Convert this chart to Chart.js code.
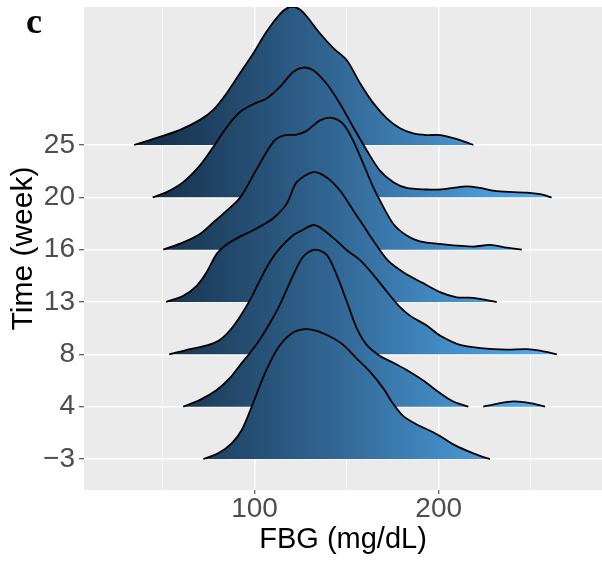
<!DOCTYPE html>
<html>
<head>
<meta charset="utf-8">
<script src="https://cdn.jsdelivr.net/npm/chart.js@4.4.0/dist/chart.umd.min.js"></script>
<style>
  body { margin: 0; background: #fff; }
  #wrap { position: relative; width: 602px; height: 565px; }
  #panelTag { position: absolute; left: 26px; top: 3px; font: bold 36px "Liberation Serif", "DejaVu Serif", serif; line-height: 36px; color: #000; }
</style>
</head>
<body>
<div id="wrap">
  <canvas id="ridges" width="602" height="565"></canvas>
  <div id="panelTag">c</div>
</div>
<script>
// rows of the plot, bottom to top
const weeks = ['\u22123', '4', '8', '13', '16', '20', '25'];

// x ticks (only the majors get a label)
const fbgTicks = [50, 100, 150, 200, 250];
const fbgLabels = [100, 200];

// density curves: FBG value and ridge height (in row units)
const fbgWkM3 = [72.2, 80.3, 87.6, 93.0, 98.5, 105.7, 112.9, 120.2, 127.4, 133.8, 141.0, 148.2, 155.5, 162.7, 169.9, 175.4, 180.8, 188.1, 195.3, 200.7, 207.9, 215.2, 222.4, 227.8];
const densWkM3 = [0, 0.11, 0.30, 0.55, 1.0, 1.64, 2.13, 2.40, 2.48, 2.45, 2.34, 2.18, 1.92, 1.67, 1.35, 1.05, 0.82, 0.66, 0.54, 0.44, 0.28, 0.16, 0.06, 0];

const fbgWk4 = [61.3, 70.4, 79.5, 86.7, 92.1, 97.6, 103.0, 108.4, 113.8, 121.1, 126.5, 132.8, 139.2, 144.6, 150.1, 155.5, 160.9, 168.1, 175.4, 182.6, 191.6, 200.7, 207.9, 216.1];
const densWk4 = [0, 0.13, 0.32, 0.55, 0.79, 1.03, 1.29, 1.60, 1.95, 2.52, 2.87, 3.00, 2.90, 2.52, 2.01, 1.50, 1.18, 0.97, 0.84, 0.70, 0.50, 0.26, 0.10, 0];
// small separate bump of week 4 at high FBG
const fbgWk4Tail = [224.2, 232.2, 240.5, 249.6, 257.7];
const densWk4Tail = [0, 0.06, 0.10, 0.07, 0];

const fbgWk8 = [53.7, 65.0, 74.1, 81.3, 86.7, 92.1, 97.6, 103.0, 108.4, 113.8, 121.1, 124.7, 132.8, 142.6, 150.1, 157.3, 164.5, 171.8, 179.0, 184.4, 193.5, 200.7, 211.6, 222.5, 236.9, 247.8, 255.0, 264.1];
const densWk8 = [0, 0.10, 0.17, 0.28, 0.46, 0.72, 1.04, 1.42, 1.77, 2.03, 2.28, 2.35, 2.47, 2.23, 1.99, 1.80, 1.52, 1.20, 0.90, 0.74, 0.55, 0.36, 0.18, 0.12, 0.09, 0.10, 0.07, 0];

const fbgWk13 = [52.0, 61.3, 68.6, 74.0, 79.5, 84.9, 92.1, 99.3, 103.9, 110.2, 117.5, 122.9, 131.9, 139.2, 146.4, 153.6, 159.1, 164.5, 172.5, 181.2, 191.0, 200.7, 209.8, 218.8, 231.5];
const densWk13 = [0, 0.12, 0.31, 0.57, 0.92, 1.10, 1.25, 1.37, 1.46, 1.60, 1.88, 2.29, 2.48, 2.38, 2.13, 1.75, 1.46, 1.17, 0.79, 0.56, 0.37, 0.19, 0.09, 0.08, 0];

const fbgWk16 = [50.5, 61.3, 70.4, 77.6, 83.1, 92.1, 101.2, 110.2, 115.6, 122.9, 128.3, 135.6, 141.9, 148.2, 153.6, 159.1, 164.5, 168.1, 175.4, 182.6, 189.8, 200.7, 218.8, 227.8, 236.9, 245.1];
const densWk16 = [0, 0.14, 0.30, 0.52, 0.69, 0.99, 1.54, 2.06, 2.18, 2.20, 2.27, 2.47, 2.52, 2.40, 2.08, 1.64, 1.19, 0.94, 0.49, 0.27, 0.16, 0.11, 0.06, 0.09, 0.04, 0];

const fbgWk20 = [44.7, 52.3, 61.3, 70.4, 77.6, 84.9, 92.1, 99.3, 106.6, 113.8, 121.1, 126.5, 131.9, 139.2, 146.4, 153.6, 160.9, 168.1, 175.4, 182.6, 193.5, 200.7, 207.9, 215.2, 222.4, 231.5, 247.8, 255.0, 261.3];
const densWk20 = [0, 0.10, 0.29, 0.61, 0.96, 1.34, 1.63, 1.78, 1.89, 2.11, 2.40, 2.48, 2.43, 2.17, 1.79, 1.34, 0.90, 0.51, 0.29, 0.18, 0.15, 0.15, 0.18, 0.21, 0.18, 0.12, 0.09, 0.06, 0];

const fbgWk25 = [34.7, 49.0, 59.6, 70.4, 77.6, 84.9, 92.1, 99.3, 106.6, 113.8, 118.0, 121.5, 125.0, 128.3, 135.6, 142.8, 150.1, 157.3, 164.5, 171.8, 179.0, 186.2, 193.5, 200.7, 207.9, 214.3, 218.8];
const densWk25 = [0, 0.16, 0.29, 0.48, 0.67, 0.99, 1.37, 1.75, 2.17, 2.50, 2.62, 2.64, 2.58, 2.46, 2.13, 1.85, 1.62, 1.18, 0.80, 0.51, 0.32, 0.22, 0.19, 0.19, 0.13, 0.06, 0];

const allFbg = [].concat(fbgWkM3, fbgWk4, fbgWk4Tail, fbgWk8, fbgWk13, fbgWk16, fbgWk20, fbgWk25);
const fbgLow = Math.min(...allFbg);
const fbgHigh = Math.max(...allFbg);

const sans = '"Liberation Sans", Arial, sans-serif';

// ggplot default continuous fill, mapped along x
function ridgeFill(context) {
  const chart = context.chart;
  if (!chart.chartArea) return '#336A98';
  const x = chart.scales.x;
  const g = chart.ctx.createLinearGradient(x.getPixelForValue(fbgLow), 0, x.getPixelForValue(fbgHigh), 0);
  g.addColorStop(0, '#132B43');
  g.addColorStop(0.5, '#336A98');
  g.addColorStop(1, '#56B1F7');
  return g;
}

function ridge(row, fbg, dens) {
  return {
    data: fbg.map((v, i) => ({ x: v, y: row + dens[i] })),
    fill: { value: row },
    backgroundColor: ridgeFill,
    borderColor: '#000000',
    borderWidth: 1.8,
    pointRadius: 0,
    tension: 0.3
  };
}

// grey panel behind the grid
const panelBg = {
  id: 'panelBg',
  beforeDraw(chart) {
    const { ctx, chartArea: a } = chart;
    ctx.save();
    ctx.fillStyle = '#EBEBEB';
    ctx.fillRect(a.left, a.top, a.right - a.left, a.bottom - a.top);
    ctx.restore();
  }
};

// first dataset is painted last, so the bottom row goes first
const datasets = [
  ridge(0, fbgWkM3, densWkM3),
  ridge(1, fbgWk4, densWk4),
  ridge(1, fbgWk4Tail, densWk4Tail),
  ridge(2, fbgWk8, densWk8),
  ridge(3, fbgWk13, densWk13),
  ridge(4, fbgWk16, densWk16),
  ridge(5, fbgWk20, densWk20),
  ridge(6, fbgWk25, densWk25)
];

new Chart(document.getElementById('ridges'), {
  type: 'line',
  data: { datasets: datasets },
  plugins: [panelBg],
  options: {
    responsive: false,
    animation: false,
    events: [],
    layout: { padding: { top: 7, left: 0, right: 0, bottom: 0 } },
    plugins: { legend: { display: false }, tooltip: { enabled: false } },
    scales: {
      x: {
        type: 'linear',
        min: 7.44,
        max: 288.65,
        afterBuildTicks: s => { s.ticks = fbgTicks.map(v => ({ value: v })); },
        afterFit: s => { s.height = 75; s.paddingLeft = 0; s.paddingRight = 0; },
        ticks: {
          autoSkip: false,
          maxRotation: 0,
          padding: -2,
          color: '#4D4D4D',
          font: { family: sans, size: 28 },
          callback: v => fbgLabels.includes(v) ? String(v) : ''
        },
        grid: {
          color: '#FFFFFF',
          lineWidth: c => fbgLabels.includes(c.tick.value) ? 1.5 : 0.8,
          tickLength: 4,
          tickWidth: 1,
          tickColor: c => fbgLabels.includes(c.tick.value) ? '#333333' : 'rgba(0,0,0,0)'
        },
        border: { display: false },
        title: {
          display: true,
          text: 'FBG (mg/dL)',
          color: '#000000',
          font: { family: sans, size: 29 },
          padding: { top: 0, bottom: 8 }
        }
      },
      y: {
        type: 'linear',
        min: -0.592,
        max: 8.637,
        afterBuildTicks: s => { s.ticks = weeks.map((w, i) => ({ value: i })); },
        afterFit: s => { s.width = 84; s.paddingTop = 0; s.paddingBottom = 0; },
        ticks: {
          autoSkip: false,
          padding: 4,
          color: '#4D4D4D',
          font: { family: sans, size: 28 },
          callback: v => weeks[v]
        },
        grid: {
          color: '#FFFFFF',
          lineWidth: 1.5,
          tickLength: 5,
          tickWidth: 1,
          tickColor: '#333333'
        },
        border: { display: false },
        title: {
          display: true,
          text: 'Time (week)',
          color: '#000000',
          font: { family: sans, size: 30 },
          padding: { top: 6, bottom: 0 }
        }
      }
    }
  }
});
</script>
</body>
</html>
